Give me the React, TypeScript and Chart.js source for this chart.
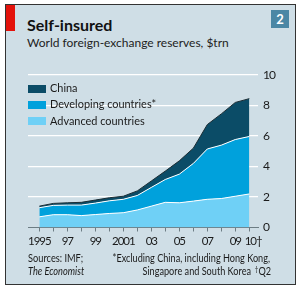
import React, { useEffect, useRef } from "react";
import { Chart, registerables } from "chart.js";

Chart.register(...registerables);

// ---- Data (values in $trn) ----
const years = [1995, 1996, 1997, 1998, 1999, 2000, 2001, 2002, 2003, 2004, 2005, 2006, 2007, 2008, 2009, 2010];
const xTickLabels = ["1995", "", "97", "", "99", "", "2001", "", "03", "", "05", "", "07", "", "09", "\u200310†"];
const advanced = [0.7, 0.84, 0.84, 0.78, 0.85, 0.92, 0.97, 1.15, 1.4, 1.65, 1.62, 1.73, 1.85, 1.9, 2.05, 2.2];
const developing = [0.6, 0.61, 0.63, 0.69, 0.75, 0.83, 0.88, 0.95, 1.23, 1.5, 1.88, 2.47, 3.3, 3.5, 3.72, 3.77];
const china = [0.1, 0.13, 0.15, 0.18, 0.2, 0.2, 0.2, 0.3, 0.42, 0.55, 0.87, 1.0, 1.6, 2.05, 2.43, 2.48];
const yTicks = [0, 2, 4, 6, 8, 10];

const seriesNames = ["Advanced countries", "Developing countries*", "China"];
const seriesColors = ["#6fd0f6", "#00a1dc", "#0b4c67"];

const BG = "#cfdee6";
const FONT = "Lato, 'Open Sans', sans-serif";

const condensePlugin = {
  id: "condense",
  beforeDraw(chart: any) {
    try {
      (chart.ctx as any).letterSpacing = "-1px";
    } catch (e) {}
  },
  afterDraw(chart: any) {
    try {
      (chart.ctx as any).letterSpacing = "0px";
    } catch (e) {}
  },
};

export default function App() {
  const canvasRef = useRef<HTMLCanvasElement | null>(null);

  useEffect(() => {
    document.body.style.margin = "0";
    const canvas = canvasRef.current;
    if (!canvas) return;
    const mk = (vals: number[]) => vals.map((v, i) => ({ x: years[i], y: v }));
    const chart = new Chart(canvas, {
      type: "line",
      plugins: [condensePlugin],
      data: {
        datasets: [
          {
            label: seriesNames[0],
            data: mk(advanced),
            backgroundColor: seriesColors[0],
            borderColor: "#ffffff",
            borderWidth: 1,
            fill: "origin",
            pointRadius: 0,
            tension: 0,
          },
          {
            label: seriesNames[1],
            data: mk(developing),
            backgroundColor: seriesColors[1],
            borderColor: "#ffffff",
            borderWidth: 1,
            fill: "-1",
            pointRadius: 0,
            tension: 0,
          },
          {
            label: seriesNames[2],
            data: mk(china),
            backgroundColor: seriesColors[2],
            borderColor: "#1b2c33",
            borderWidth: 1,
            fill: "-1",
            pointRadius: 0,
            tension: 0,
          },
        ],
      },
      options: {
        responsive: false,
        animation: false,
        events: [],
        layout: { padding: { left: 28, top: 75, right: 0, bottom: 40.5 } },
        plugins: {
          legend: { display: false },
          tooltip: { enabled: false },
        },
        scales: {
          x: {
            type: "linear",
            min: 1994.19,
            max: 2010.62,
            afterBuildTicks: (scale: any) => {
              scale.ticks = years.map((v) => ({ value: v }));
            },
            afterFit: (scale: any) => {
              scale.height = 22;
            },
            grid: {
              display: true,
              drawOnChartArea: false,
              drawTicks: true,
              tickLength: 4,
              color: "#6d7d84",
              lineWidth: 1,
            },
            border: { display: true, color: "#6d7d84", width: 1 },
            ticks: {
              autoSkip: false,
              maxRotation: 0,
              padding: 2.5,
              color: "#1a1a1a",
              font: { family: FONT, size: 11.5 },
              callback: (value: any) => {
                const i = years.indexOf(Number(value));
                return i >= 0 ? xTickLabels[i] : "";
              },
            },
          },
          y: {
            position: "right",
            stacked: true,
            min: 0,
            max: 10,
            afterBuildTicks: (scale: any) => {
              scale.ticks = yTicks.map((v) => ({ value: v }));
            },
            afterFit: (scale: any) => {
              scale.width = 44;
            },
            border: { display: false },
            grid: {
              drawTicks: false,
              color: (ctx: any) => (ctx.tick && ctx.tick.value === 0 ? "rgba(0,0,0,0)" : "#ffffff"),
              lineWidth: 1.2,
            },
            ticks: {
              padding: 5,
              color: "#1a1a1a",
              font: { family: FONT, size: 12 },
              callback: (value: any) => String(value),
            },
          },
        },
      },
    });
    return () => chart.destroy();
  }, []);

  const abs = (o: React.CSSProperties): React.CSSProperties => ({ position: "absolute", whiteSpace: "nowrap", ...o });
  const text = (f: number, baseline: number, left: number, extra: React.CSSProperties = {}): React.CSSProperties =>
    abs({
      left,
      top: baseline - 0.987 * f,
      fontSize: f,
      lineHeight: `${1.2 * f}px`,
      fontFamily: FONT,
      color: "#1a1a1a",
      ...extra,
    });

  const legendItems = [
    { name: seriesNames[2], color: seriesColors[2], baseline: 93.3 },
    { name: seriesNames[1], color: seriesColors[1], baseline: 109.3 },
    { name: seriesNames[0], color: seriesColors[0], baseline: 125.5 },
  ];

  const footL: React.CSSProperties = { transform: "scaleX(0.88)", transformOrigin: "left center" };
  const footR: React.CSSProperties = { transform: "scaleX(0.87)", transformOrigin: "right center" };

  return (
    <div style={{ position: "relative", width: 302, height: 290, background: "#ffffff", overflow: "hidden" }}>
      <div
        style={abs({
          left: 5,
          top: 4,
          width: 289,
          height: 279,
          background: BG,
          border: "1.5px solid #333",
        })}
      />
      <div style={abs({ left: 6, top: 5, width: 9, height: 26, background: "#e3120b" })} />
      <div style={text(16, 30.7, 27, { fontWeight: 700, color: "#111" })}>Self-insured</div>
      <div style={text(12, 48.3, 27, { color: "#222" })}>World foreign-exchange reserves, $trn</div>
      <div
        style={abs({
          left: 271,
          top: 10,
          width: 18,
          height: 18,
          background: "#4b87a5",
          color: "#fff",
          fontFamily: FONT,
          fontWeight: 700,
          fontSize: 13,
          lineHeight: "18px",
          textAlign: "center",
        })}
      >
        2
      </div>
      <canvas
        ref={canvasRef}
        width={302}
        height={290}
        style={{ position: "absolute", left: 0, top: 0, width: 302, height: 290 }}
      />
      {legendItems.map((it) => (
        <React.Fragment key={it.name}>
          <div style={abs({ left: 28, top: it.baseline - 8.3, width: 18, height: 8, background: it.color })} />
          <div style={text(12, it.baseline, 50, { color: "#1a1a1a", transform: "scaleX(0.91)", transformOrigin: "left center" })}>
            {it.name}
          </div>
        </React.Fragment>
      ))}
      <div style={text(10.5, 262.5, 28, footL)}>Sources: IMF;</div>
      <div style={text(10.5, 275.5, 28, { fontStyle: "italic", ...footL })}>The Economist</div>
      <div style={text(10.5, 262.5, 0, { width: 270, textAlign: "right", ...footR })}>
        *Excluding China, including Hong Kong,
      </div>
      <div style={text(10.5, 275.5, 0, { width: 251, textAlign: "right", ...footR })}>Singapore and South Korea</div>
      <div style={text(10.5, 275.5, 0, { width: 271, textAlign: "right", ...footR })}>
        <span style={{ fontSize: 7, position: "relative", top: -3 }}>†</span>Q2
      </div>
    </div>
  );
}
